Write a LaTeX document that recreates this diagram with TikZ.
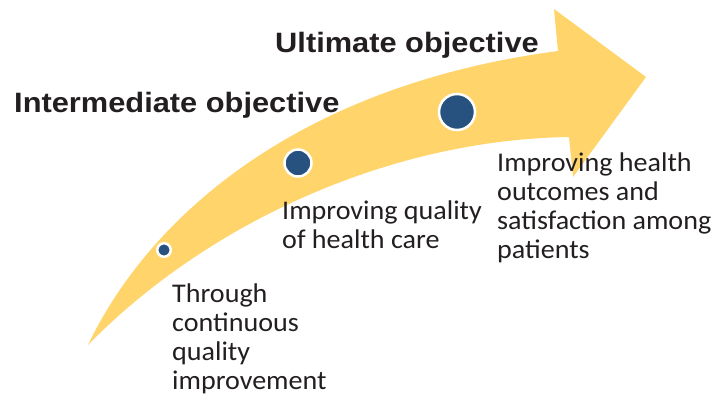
\documentclass[tikz,border=0pt]{standalone}
\usepackage{fontspec}
\setmainfont{Carlito}[FakeStretch=1.04]
\newfontfamily\headfont{Liberation Sans}[FakeStretch=1.1]
\definecolor{arrowfill}{HTML}{FFD56B}
\definecolor{stageblue}{HTML}{27527F}
\definecolor{inkgray}{HTML}{231F20}

\begin{document}
\begin{tikzpicture}[x=1pt,y=-1pt,
  stage/.style={circle, fill=stageblue, draw=white, line width=2.5pt, inner sep=0pt},
  note/.style={anchor=north west, align=left, inner sep=0pt, text=inkgray, font=\fontsize{27}{29}\selectfont},
  goal/.style={anchor=base west, inner sep=0pt, text=inkgray, font=\headfont\bfseries\fontsize{28}{30}\selectfont}]
\useasboundingbox (0,0) rectangle (717,397);

% curved arrow: outer edge, head, inner edge back to the tail
\fill[arrowfill] (88,345) .. controls (150,215) and (300,85) .. (558,51)
  -- (554,9) -- (646,77) -- (573,177) -- (569,137)
  .. controls (380,140) and (200,230) .. (88,345) -- cycle;

% stages along the arrow
\node[stage, minimum size=13.5pt] (s1) at (164,250) {};
\node[stage, minimum size=27pt] (s2) at (298,163) {};
\node[stage, minimum size=36pt] (s3) at (457,112) {};

\node[goal] (mid) at (14,112) {Intermediate objective};
\node[goal] (ult) at (275,52) {Ultimate objective};

\node[note] (cqi) at (172,284) {Through\\continuous\\quality\\improvement};
\node[note] (care) at (282,201) {Improving quality\\of health care};
\node[note] (outc) at (497,153) {Improving health\\outcomes and\\satisfaction among\\patients};
\end{tikzpicture}
\end{document}
